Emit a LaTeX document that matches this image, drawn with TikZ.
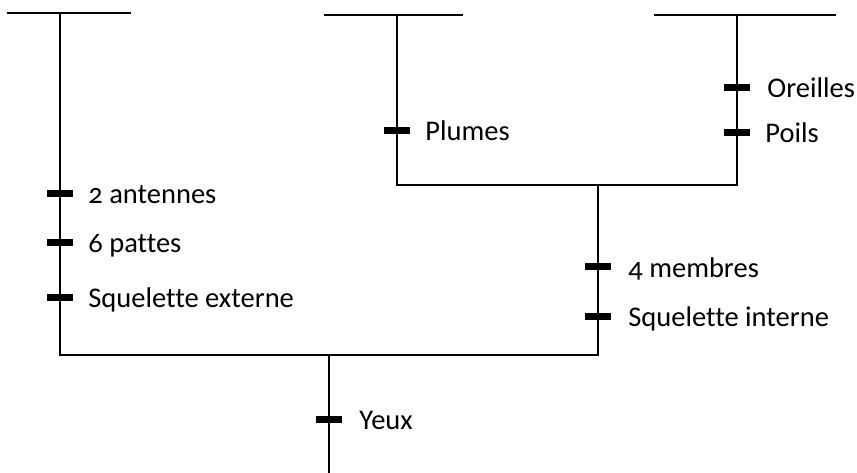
\documentclass[tikz,border=0pt]{standalone}
\usepackage{fontspec}
\setmainfont[Numbers=OldStyle,Ligatures=NoCommon]{Carlito}
\begin{document}
\begin{tikzpicture}[x=1pt,y=-1pt,
  branch/.style={line width=2pt,line cap=rect},
  tickbar/.style={rectangle,fill=black,inner sep=0pt,minimum width=26pt,minimum height=7pt},
  lbl/.style={anchor=base west,inner sep=0pt,font=\fontsize{28.5}{34}\selectfont}]
\useasboundingbox (0,0) rectangle (857,473);
% junction coordinates
\coordinate (a1) at (8,13);   \coordinate (a2) at (130,13);  \coordinate (a) at (60,13);
\coordinate (b1) at (325,15); \coordinate (b2) at (462,15);  \coordinate (b) at (397,15);
\coordinate (c1) at (655,15); \coordinate (c2) at (835,15);  \coordinate (c) at (737,15);
\coordinate (bj) at (397,185); \coordinate (cj) at (737,185); \coordinate (bc) at (598,185);
\coordinate (aj) at (60,355); \coordinate (bcj) at (598,355); \coordinate (root) at (329,355);
\coordinate (base) at (329,473);
% branches
\draw[branch] (a1) -- (a2);
\draw[branch] (b1) -- (b2);
\draw[branch] (c1) -- (c2);
\draw[branch] (a) -- (aj);
\draw[branch] (b) -- (bj) -- (cj) -- (c);
\draw[branch] (bc) -- (bcj);
\draw[branch] (aj) -- (bcj);
\draw[branch] (root) -- (base);
% ticks
\node[tickbar] (t1) at (60,194) {};
\node[tickbar] (t2) at (60,243) {};
\node[tickbar] (t3) at (60,297) {};
\node[tickbar] (t4) at (397,131) {};
\node[tickbar] (t5) at (737,88) {};
\node[tickbar] (t6) at (737,133) {};
\node[tickbar] (t7) at (598,267) {};
\node[tickbar] (t8) at (598,316) {};
\node[tickbar] (t9) at (329,419) {};
% labels
\node[lbl] (l1) at ([xshift=15pt,yshift=-10pt]t1.east) {2 antennes};
\node[lbl] (l2) at ([xshift=15pt,yshift=-10pt]t2.east) {6 pattes};
\node[lbl] (l3) at ([xshift=15pt,yshift=-10pt]t3.east) {Squelette externe};
\node[lbl] (l4) at ([xshift=15pt,yshift=-10pt]t4.east) {Plumes};
\node[lbl] (l5) at ([xshift=17pt,yshift=-10pt]t5.east) {Oreilles};
\node[lbl] (l6) at ([xshift=15pt,yshift=-10pt]t6.east) {Poils};
\node[lbl] (l7) at ([xshift=17pt,yshift=-10pt]t7.east) {4 membres};
\node[lbl] (l8) at ([xshift=17pt,yshift=-10pt]t8.east) {Squelette interne};
\node[lbl] (l9) at ([xshift=17pt,yshift=-10pt]t9.east) {Yeux};
\end{tikzpicture}
\end{document}
